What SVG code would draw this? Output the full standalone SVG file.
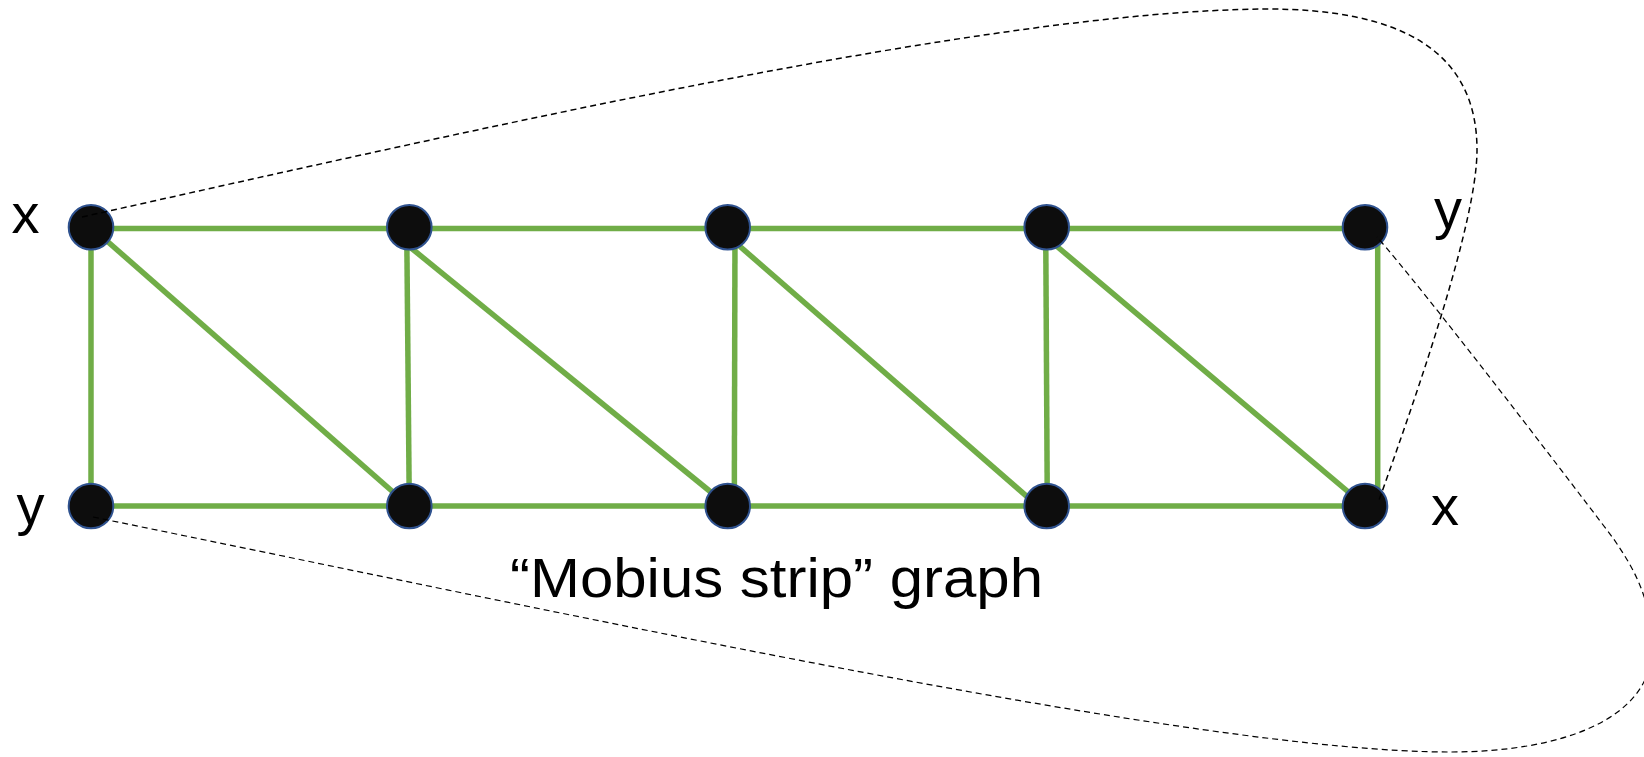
<svg xmlns="http://www.w3.org/2000/svg" width="1644" height="757" viewBox="0 0 1644 757">
<style>
.edge{stroke:#70AD47;stroke-width:5.5;fill:none}
.node{fill:#0D0D0D;stroke:#2F528F;stroke-width:2}
.dash{fill:none;stroke:#000;stroke-dasharray:6 4}
.lbl{font-family:"Liberation Sans",Arial,sans-serif;font-size:56px;fill:#000}
</style>
<rect width="1644" height="757" fill="#fff"/>
<g id="edges">
<line class="edge" x1="91" y1="228.5" x2="1365" y2="228.5"/>
<line class="edge" x1="91" y1="506" x2="1365" y2="506"/>
<line class="edge" x1="91" y1="227" x2="91" y2="506"/>
<line class="edge" x1="406.7" y1="227" x2="409.3" y2="506"/>
<line class="edge" x1="735" y1="227" x2="734.3" y2="506"/>
<line class="edge" x1="1045.7" y1="227" x2="1047.3" y2="506"/>
<line class="edge" x1="1377.7" y1="227" x2="1377.7" y2="506"/>
<line class="edge" x1="91" y1="227" x2="409" y2="506"/>
<line class="edge" x1="405" y1="243" x2="728" y2="506"/>
<line class="edge" x1="728" y1="236" x2="1047" y2="514"/>
<line class="edge" x1="1047" y1="238" x2="1365" y2="506"/>
</g>
<g id="n1"><circle class="node" cx="91" cy="227.3" r="22.3"/></g>
<g id="n2"><circle class="node" cx="409.3" cy="227.3" r="22.3"/></g>
<g id="n3"><circle class="node" cx="727.7" cy="227.3" r="22.3"/></g>
<g id="n4"><circle class="node" cx="1046.7" cy="227.3" r="22.3"/></g>
<g id="n5"><circle class="node" cx="1365" cy="227.3" r="22.3"/></g>
<g id="n6"><circle class="node" cx="91" cy="506" r="22.3"/></g>
<g id="n7"><circle class="node" cx="409.3" cy="506" r="22.3"/></g>
<g id="n8"><circle class="node" cx="727.7" cy="506" r="22.3"/></g>
<g id="n9"><circle class="node" cx="1046.7" cy="506" r="22.3"/></g>
<g id="n10"><circle class="node" cx="1365" cy="506" r="22.3"/></g>
<g id="connectors">
<path class="dash" stroke-width="1.5" d="M82 217 C482 128 990 11 1266 9 C1400 9 1477 50 1477 150 C1477 220 1421 383 1378 503"/>
<path class="dash" stroke-width="1.2" d="M93 517 C593 619 1200 752 1450 752 C1560 752 1650 720 1652 650 C1652 600 1635 570 1613 538 C1553 459 1427 294 1377 237"/>
</g>
<g id="labels">
<text class="lbl" x="25.5" y="233" text-anchor="middle">x</text>
<text class="lbl" x="30.5" y="524" text-anchor="middle">y</text>
<text class="lbl" x="1448" y="228" text-anchor="middle">y</text>
<text class="lbl" x="1445" y="525" text-anchor="middle">x</text>
<text class="lbl" x="510" y="597" textLength="533" lengthAdjust="spacingAndGlyphs">“Mobius strip” graph</text>
</g>
</svg>
